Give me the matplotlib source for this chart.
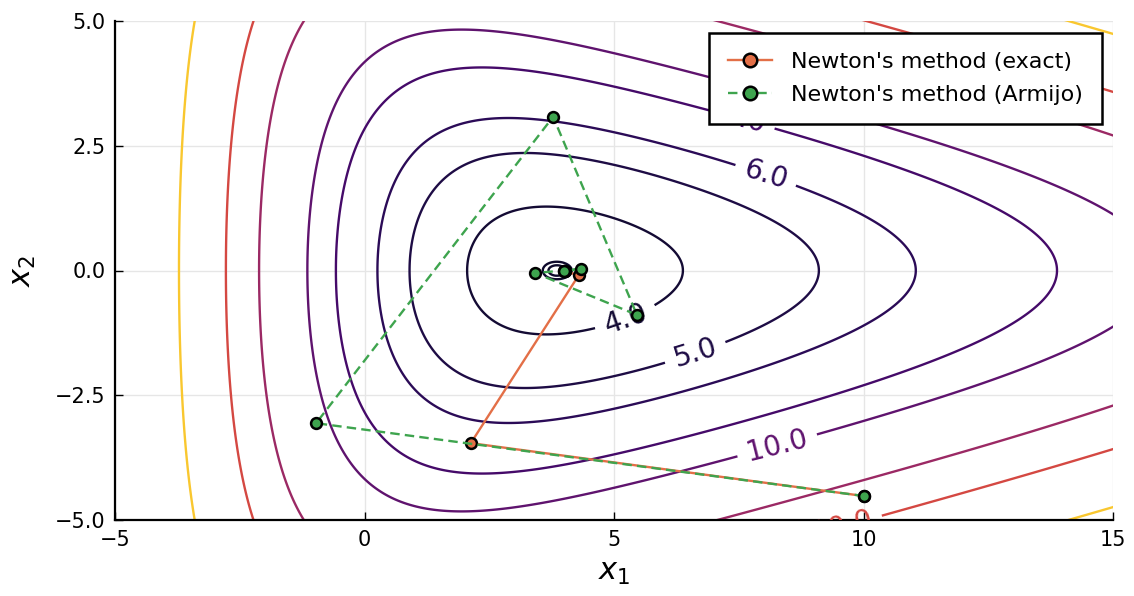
import numpy as np
import matplotlib
matplotlib.use("Agg")
import matplotlib.pyplot as plt
from matplotlib import cm, colors

C0, A_RIGHT, RATE_RIGHT = 1.5, 1.07, 0.13
LEFT_COEF = [1.375, -0.587, -0.0167]
K_AT4, RATE_K, BETA = 4.67, 0.10, 0.33

LEVELS = [3.59, 3.595, 4, 5, 6, 8, 10, 15, 20, 30]
LABELLED = [4, 5, 6, 8, 10, 20]
LABEL_POS = [(5.25, -1.03), (6.66, -1.76), (8.06, 1.98), (7.6, 3.0), (8.26, -3.46), (9.55, -5.04)]

# Newton iterates
EXACT_X1 = [10.01, 2.13, 4.29, 4.02, 4.0]
EXACT_X2 = [-4.52, -3.46, -0.10, -0.01, 0.0]
ARMIJO_X1 = [10.01, -0.97, 3.78, 5.46, 3.42, 4.34, 4.02, 4.0]
ARMIJO_X2 = [-4.52, -3.06, 3.08, -0.89, -0.05, 0.03, -0.01, 0.0]

ORANGE = "#e36f47"
GREEN = "#3ea44e"


def f(x1, x2):
    right = C0 + A_RIGHT * np.exp(RATE_RIGHT * x1)
    left = np.exp(LEFT_COEF[0] + LEFT_COEF[1] * x1 + LEFT_COEF[2] * x1 ** 2)
    k = K_AT4 * np.exp(RATE_K * (x1 - 4))
    return right + left + k * (np.cosh(BETA * x2) - 1)


plt.rcParams["font.family"] = ["DejaVu Sans"]

fig = plt.figure(figsize=(11.34, 5.96), dpi=100)
ax = fig.add_axes([115 / 1134, 1 - 520 / 596, 998 / 1134, 499 / 596])

g1 = np.linspace(-5.5, 15.5, 600)
g2 = np.linspace(-5.8, 5.8, 400)
X1, X2 = np.meshgrid(g1, g2)
Z = f(X1, X2)

norm = colors.Normalize(vmin=1.0, vmax=34.3)
plain = [l for l in LEVELS if l not in LABELLED]
ax.contour(X1, X2, Z, levels=plain, colors=[cm.inferno(norm(l)) for l in plain],
           linewidths=1.7)
cs = ax.contour(X1, X2, Z, levels=LABELLED, colors=[cm.inferno(norm(l)) for l in LABELLED],
                linewidths=1.7)
texts = ax.clabel(cs, manual=LABEL_POS, fmt="%.1f", fontsize=20, inline=True,
                  inline_spacing=8)
for t in texts:
    t.set_clip_on(True)
    t.set_clip_path(ax.patch)

ax.plot(EXACT_X1, EXACT_X2, "-", color=ORANGE, lw=1.7, marker="o", ms=7.8,
        mfc=ORANGE, mec="black", mew=1.8, label="Newton's method (exact)", zorder=3)
ax.plot(ARMIJO_X1, ARMIJO_X2, "--", color=GREEN, lw=1.7, dashes=(4, 2.2), marker="o",
        ms=7.8, mfc=GREEN, mec="black", mew=1.8, label="Newton's method (Armijo)", zorder=4)

ax.set_xlim(-5, 15)
ax.set_ylim(-5, 5)
ax.set_xticks([-5, 0, 5, 10, 15])
ax.set_yticks([-5, -2.5, 0, 2.5, 5])
ax.set_yticklabels(["\u22125.0", "\u22122.5", "0.0", "2.5", "5.0"])
ax.tick_params(direction="in", length=6, width=1, labelsize=15, pad=7)
ax.grid(True, color="#e6e6e6", lw=1)
ax.set_axisbelow(True)
for side in ["top", "right"]:
    ax.spines[side].set_visible(False)
for side in ["left", "bottom"]:
    ax.spines[side].set_linewidth(1.6)

ax.set_xlabel("$x_1$", fontsize=22, labelpad=6)
ax.set_ylabel("$x_2$", fontsize=22, labelpad=12)

leg = ax.legend(loc="upper right", bbox_to_anchor=(0.989, 0.976), borderaxespad=0,
                fontsize=16, fancybox=False, framealpha=1, edgecolor="black",
                handlelength=2.0, handletextpad=0.85, borderpad=0.85, labelspacing=0.6,
                markerscale=1.25)
leg.get_frame().set_linewidth(1.8)

fig.savefig("out.png", dpi=100)
